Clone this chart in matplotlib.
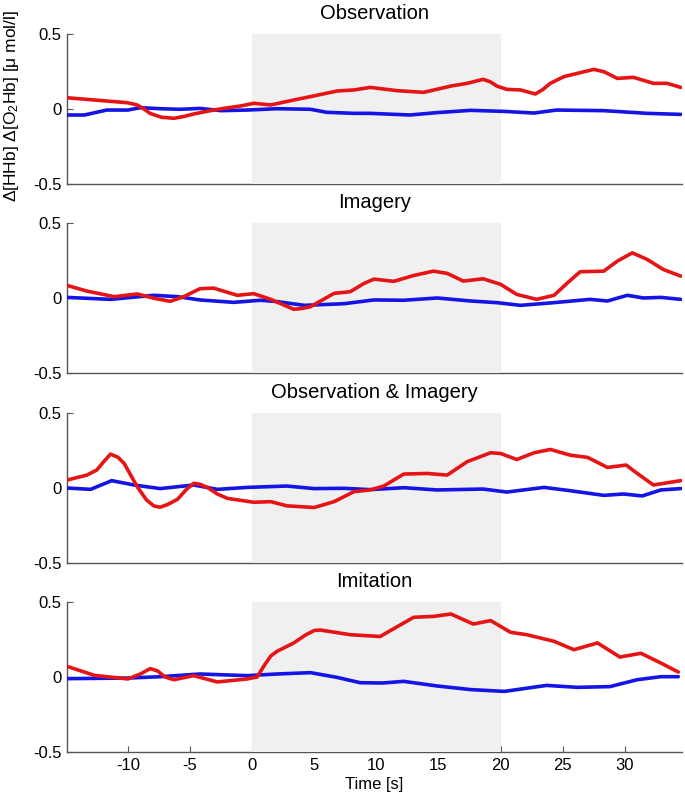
import numpy as np
import matplotlib
matplotlib.use("Agg")
import matplotlib.pyplot as plt

plt.rcParams['font.family'] = ['Liberation Sans', 'DejaVu Sans']
plt.rcParams['axes.unicode_minus'] = False
plt.rcParams['mathtext.default'] = 'regular'

titles = ['Observation', 'Imagery', 'Observation & Imagery', 'Imitation']

# O2Hb (red) and HHb (blue) curves: (time [s], value)
obs_o2_t = [-14.9, -12.7, -10.05, -9.25, -8.7, -8.2, -7.3, -6.3, -5.5, -4.7, -3.35, -2.3, -0.94, 0.13, 1.5, 3.35,
            4.96, 6.84, 8.2, 9.5, 11.7, 13.8, 16.0, 17.3, 18.6, 19.2, 19.7, 20.5, 21.6, 22.8, 23.4, 24.0, 25.1,
            26.4, 27.5, 28.3, 29.4, 30.7, 32.3, 33.4, 34.5]
obs_o2_v = [0.075, 0.06, 0.042, 0.027, 0.0, -0.03, -0.055, -0.062, -0.05, -0.033, -0.011, 0.004, 0.02, 0.038,
            0.027, 0.06, 0.087, 0.12, 0.127, 0.144, 0.122, 0.111, 0.153, 0.171, 0.198, 0.18, 0.153, 0.131, 0.127,
            0.1, 0.13, 0.171, 0.216, 0.242, 0.264, 0.249, 0.204, 0.211, 0.171, 0.171, 0.144]
obs_hh_t = [-14.9, -13.5, -11.7, -10.0, -9.0, -7.4, -5.8, -4.2, -2.5, -0.4, 2.0, 4.7, 6.0, 8.2, 9.5, 12.7, 14.9,
            17.6, 20.3, 22.7, 24.5, 28.3, 31.8, 34.5]
obs_hh_v = [-0.04, -0.04, -0.007, -0.007, 0.009, 0.002, -0.002, 0.004, -0.011, -0.007, 0.002, -0.002, -0.022,
            -0.029, -0.029, -0.04, -0.024, -0.009, -0.016, -0.027, -0.007, -0.011, -0.029, -0.036]

img_o2_t = [-14.9, -13.3, -11.1, -9.25, -7.9, -6.6, -5.5, -4.2, -3.1, -1.2, 0.13, 1.5, 2.5, 3.35, 4.0, 4.7, 6.6,
            7.9, 9.0, 9.8, 11.4, 13.0, 14.6, 15.7, 17.0, 18.6, 20.0, 21.3, 22.9, 24.3, 25.4, 26.4, 28.3, 29.4,
            30.6, 31.8, 33.1, 34.5]
img_o2_v = [0.084, 0.046, 0.009, 0.027, -0.002, -0.022, 0.009, 0.062, 0.066, 0.018, 0.029, -0.009, -0.045,
            -0.075, -0.07, -0.058, 0.031, 0.042, 0.097, 0.126, 0.111, 0.15, 0.179, 0.164, 0.113, 0.128, 0.091,
            0.024, -0.009, 0.018, 0.102, 0.175, 0.179, 0.246, 0.301, 0.257, 0.19, 0.146]
img_hh_t = [-14.9, -11.4, -7.9, -6.0, -4.2, -1.5, 0.7, 2.0, 4.2, 7.4, 9.8, 12.2, 14.9, 17.6, 19.7, 21.6, 24.3,
            27.2, 28.6, 30.2, 31.5, 32.9, 34.5]
img_hh_v = [0.004, -0.009, 0.018, 0.009, -0.013, -0.029, -0.015, -0.024, -0.049, -0.038, -0.013, -0.015, 0.0,
            -0.02, -0.031, -0.049, -0.031, -0.009, -0.02, 0.018, 0.0, 0.004, -0.009]

oi_o2_t = [-14.9, -13.3, -12.5, -12.0, -11.4, -10.8, -10.3, -9.8, -9.25, -8.5, -7.9, -7.4, -6.8, -6.0, -5.3,
           -4.7, -4.2, -3.6, -2.8, -2.0, 0.13, 1.5, 2.8, 5.0, 6.6, 8.2, 9.5, 10.6, 12.2, 14.1, 15.7, 17.3, 19.2,
           20.0, 21.3, 22.7, 24.0, 25.6, 27.0, 28.6, 30.1, 31.0, 32.3, 34.5]
oi_o2_v = [0.053, 0.086, 0.12, 0.17, 0.226, 0.205, 0.164, 0.09, 0.009, -0.08, -0.12, -0.128, -0.11, -0.075,
           -0.01, 0.031, 0.025, 0.004, -0.04, -0.069, -0.095, -0.091, -0.119, -0.13, -0.091, -0.024, -0.013,
           0.013, 0.093, 0.097, 0.086, 0.175, 0.235, 0.23, 0.19, 0.235, 0.257, 0.219, 0.204, 0.137, 0.153, 0.097,
           0.02, 0.049]
oi_hh_t = [-14.9, -13.0, -11.3, -9.5, -7.4, -4.7, -2.8, -0.4, 2.8, 5.0, 7.4, 9.5, 12.2, 14.9, 18.6, 20.5, 23.5,
           25.6, 28.3, 29.9, 31.4, 32.9, 34.5]
oi_hh_v = [0.0, -0.009, 0.049, 0.02, -0.004, 0.02, -0.009, 0.004, 0.013, -0.004, -0.002, -0.011, 0.002, -0.013,
           -0.007, -0.027, 0.004, -0.018, -0.049, -0.04, -0.053, -0.013, -0.004]

imi_o2_t = [-14.9, -12.7, -10.0, -9.0, -8.2, -7.6, -7.0, -6.3, -4.7, -2.8, -0.4, 0.4, 1.0, 1.5, 2.0, 2.7, 3.35,
            4.3, 5.0, 5.5, 6.5, 7.9, 10.3, 13.0, 14.6, 16.0, 17.8, 19.2, 20.8, 22.1, 24.3, 25.9, 27.8, 29.6, 31.3,
            32.9, 34.3]
imi_o2_v = [0.071, 0.011, -0.013, 0.02, 0.056, 0.04, 0.0, -0.018, 0.009, -0.033, -0.013, 0.0, 0.08, 0.14, 0.171,
            0.2, 0.227, 0.28, 0.31, 0.313, 0.3, 0.282, 0.27, 0.398, 0.404, 0.42, 0.353, 0.376, 0.298, 0.282,
            0.238, 0.182, 0.227, 0.133, 0.158, 0.093, 0.033]
imi_hh_t = [-14.9, -10.0, -7.4, -4.2, -0.4, 2.0, 4.7, 6.8, 8.7, 10.5, 12.2, 14.9, 17.6, 20.3, 23.7, 26.2, 28.8,
            31.0, 32.9, 34.3]
imi_hh_v = [-0.011, -0.007, 0.002, 0.02, 0.009, 0.02, 0.029, -0.002, -0.038, -0.04, -0.029, -0.06, -0.084,
            -0.096, -0.056, -0.069, -0.064, -0.018, 0.002, 0.002]

o2_series = [(obs_o2_t, obs_o2_v), (img_o2_t, img_o2_v), (oi_o2_t, oi_o2_v), (imi_o2_t, imi_o2_v)]
hh_series = [(obs_hh_t, obs_hh_v), (img_hh_t, img_hh_v), (oi_hh_t, oi_hh_v), (imi_hh_t, imi_hh_v)]

task_start, task_end = 0, 20
x_ticks = [-10, -5, 0, 5, 10, 15, 20, 25, 30]

fig = plt.figure(figsize=(6.85, 8.02), dpi=100)
tops = [34, 223, 413, 602]  # pixel rows of the panel tops
left, width = 67 / 685, 615 / 685
h = 150 / 802

for i in range(4):
    ax = fig.add_axes([left, 1 - (tops[i] + 150) / 802, width, h])
    ax.axvspan(task_start, task_end, color='#f0f0f0', zorder=2.6, lw=0)
    ax.plot(*hh_series[i], color='#1414e6', lw=2.6, zorder=4, solid_capstyle='round', solid_joinstyle='round')
    ax.plot(*o2_series[i], color='#e61414', lw=2.6, zorder=5, solid_capstyle='round', solid_joinstyle='round')
    ax.set_xlim(-14.9, 34.6)
    ax.set_ylim(-0.5, 0.5)
    ax.set_yticks([-0.5, 0, 0.5])
    ax.set_yticklabels(['-0.5', '0', '0.5'])
    for s in ['top', 'right']:
        ax.spines[s].set_visible(False)
    for s in ['left', 'bottom']:
        ax.spines[s].set_color('#555555')
        ax.spines[s].set_linewidth(1.0)
    ax.tick_params(direction='in', length=4, color='#555555', labelsize=12, pad=4)
    ax.set_title(titles[i], fontsize=14.5, pad=11)
    if i < 3:
        ax.set_xticks([])
    else:
        ax.set_xticks(x_ticks)
        ax.set_xlabel('Time [s]', fontsize=12, labelpad=3)

fig.text(0.017, 1 - 106 / 802, 'Δ[HHb] Δ[O$_2$Hb] [μ mol/l]', rotation=90,
         ha='center', va='center', fontsize=12.5)

fig.savefig('out.png', dpi=100)
